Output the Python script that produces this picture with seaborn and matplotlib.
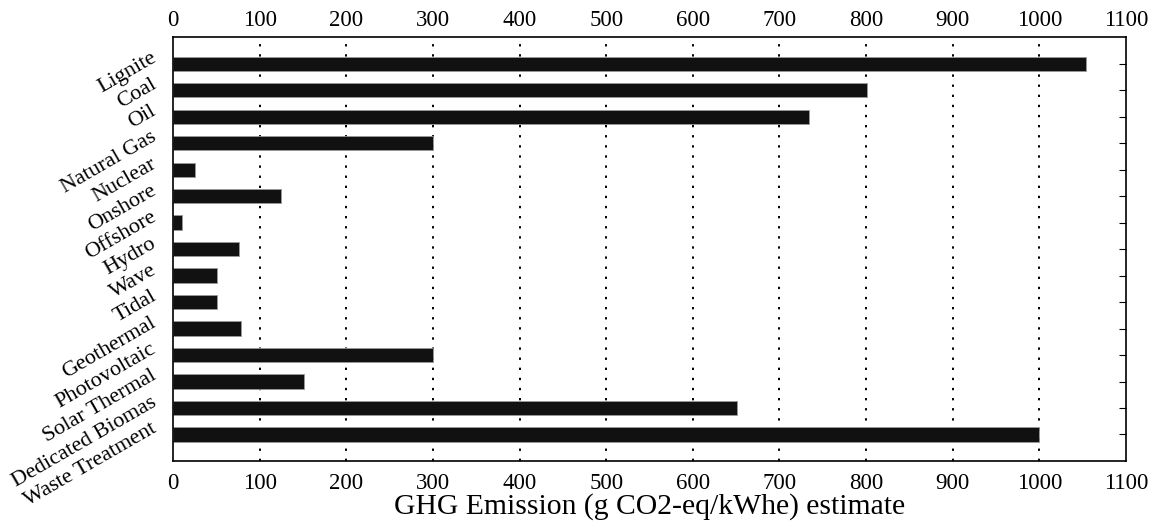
import matplotlib
matplotlib.use("Agg")
import matplotlib.pyplot as plt
import matplotlib.transforms as mtransforms
import seaborn as sns
import pandas as pd

categories = ["Lignite", "Coal", "Oil", "Natural Gas", "Nuclear", "Onshore", "Offshore",
              "Hydro", "Wave", "Tidal", "Geothermal", "Photovoltaic", "Solar Thermal",
              "Dedicated Biomas", "Waste Treatment"]
values = [1054, 801, 734, 300, 25, 125, 10, 76, 51, 51, 79, 300, 151, 651, 1000]
xticks = [0, 100, 200, 300, 400, 500, 600, 700, 800, 900, 1000, 1100]
grid_x = [100, 200, 300, 400, 500, 600, 700, 800, 900, 1000]

sns.set_theme(style="white")
plt.rcParams['font.family'] = ['Liberation Serif', 'DejaVu Serif']

df = pd.DataFrame({"cat": categories, "val": values})

fig = plt.figure(figsize=(11.57, 5.25), dpi=100)
ax = fig.add_axes([0.1495, 0.122, 0.8237, 0.807])

for gx in grid_x:
    ax.axvline(gx, color="black", linestyle=(0, (1.2, 4)), linewidth=1.4, zorder=0)

sns.barplot(data=df, x="val", y="cat", orient="h", color="#111111", width=0.54,
            edgecolor="#999999", linewidth=0.6, saturation=1, ax=ax, zorder=2)

ax.set_xlim(0, 1100)
ax.set_ylim(len(categories), -1)
ax.set_xticks(xticks)
ax.set_xticklabels([str(t) for t in xticks])
ax.tick_params(axis="x", top=True, labeltop=True, bottom=True, labelbottom=True,
               direction="in", length=0, labelsize=16.5, pad=9, colors="black")
ax.tick_params(axis="y", left=True, right=True, direction="in", length=5, width=0.8,
               labelsize=16, pad=13, colors="black")
down = mtransforms.ScaledTranslation(0, -6 / 100, fig.dpi_scale_trans)
for tick in ax.xaxis.get_major_ticks():
    tick.label2.set_transform(tick.label2.get_transform() + down)
offset = mtransforms.ScaledTranslation(0, 7 / 100, fig.dpi_scale_trans)
for lbl in ax.get_yticklabels():
    lbl.set_rotation(30)
    lbl.set_ha("right")
    lbl.set_va("center")
    lbl.set_rotation_mode("anchor")
    lbl.set_transform(lbl.get_transform() + offset)

ax.set_ylabel("")
ax.set_xlabel("GHG Emission (g CO2-eq/kWhe) estimate", fontsize=21.3, labelpad=-1, color="black")
for s in ax.spines.values():
    s.set_color("black")
    s.set_linewidth(1.2)
    s.set_visible(True)

fig.savefig("out.png", dpi=100, facecolor="white")
